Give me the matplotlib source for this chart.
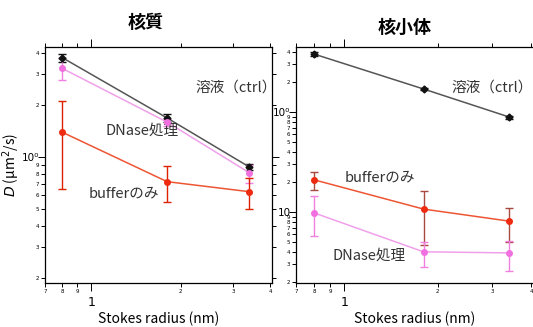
import matplotlib
matplotlib.use("Agg")
import matplotlib.pyplot as plt
from matplotlib.ticker import FixedLocator, FixedFormatter

plt.rcParams['font.family'] = ['Noto Sans CJK JP', 'DejaVu Sans']

# Stokes radius of probe molecules (nm)
radius = [0.8, 1.8, 3.4]

# 核質 (nucleoplasm): value, lower, upper  (µm²/s)
ctrl_np = [3.75, 1.68, 0.875]
ctrl_np_lo = [3.55, 1.60, 0.84]
ctrl_np_hi = [3.95, 1.76, 0.91]
dnase_np = [3.25, 1.59, 0.81]
dnase_np_lo = [2.79, 1.52, 0.71]
dnase_np_hi = [3.75, 1.66, 0.90]
buffer_np = [1.39, 0.72, 0.63]
buffer_np_lo = [0.65, 0.55, 0.50]
buffer_np_hi = [2.10, 0.89, 0.76]

# 核小体 (nucleolus)
ctrl_no = [3.8, 1.70, 0.89]
ctrl_no_lo = [3.65, 1.65, 0.86]
ctrl_no_hi = [3.95, 1.75, 0.92]
buffer_no = [0.21, 0.107, 0.081]
buffer_no_lo = [0.166, 0.047, 0.050]
buffer_no_hi = [0.25, 0.163, 0.11]
dnase_no = [0.098, 0.040, 0.039]
dnase_no_lo = [0.057, 0.028, 0.026]
dnase_no_hi = [0.145, 0.050, 0.051]

x_minor = [0.7, 0.8, 0.9, 2, 3, 4]
x_minor_labels = ['7', '8', '9', '2', '3', '4']

BLACK = '#111111'
PINK = '#f080e0'
RED = '#ee2a10'

W, H = 533, 327
fig = plt.figure(figsize=(W / 100, H / 100), dpi=100)


def px_axes(x0, x1, y0, y1):
    return fig.add_axes([x0 / W, 1 - y1 / H, (x1 - x0) / W, (y1 - y0) / H])


def series(ax, val, lo, hi, line, mark, ebar, m='o', ms=4):
    err = [[v - l for v, l in zip(val, lo)], [h - v for v, h in zip(val, hi)]]
    ax.errorbar(radius, val, yerr=err, fmt='none', ecolor=ebar, elinewidth=1,
                capsize=3, capthick=1, zorder=2)
    ax.plot(radius, val, color=line, lw=1.1, zorder=3)
    ax.plot(radius, val, ls='none', marker=m, ms=ms, color=mark, zorder=4)


def style(ax, ylim, ymaj, ymaj_labels, ymin, ymin_labels, right):
    ax.set_xscale('log')
    ax.set_yscale('log')
    ax.set_xlim(0.7, 4.05)
    ax.set_ylim(*ylim)
    ax.xaxis.set_major_locator(FixedLocator([1]))
    ax.xaxis.set_major_formatter(FixedFormatter(['1']))
    ax.xaxis.set_minor_locator(FixedLocator(x_minor))
    ax.xaxis.set_minor_formatter(FixedFormatter(x_minor_labels))
    ax.yaxis.set_major_locator(FixedLocator(ymaj))
    ax.yaxis.set_major_formatter(FixedFormatter(ymaj_labels))
    ax.yaxis.set_minor_locator(FixedLocator(ymin))
    ax.yaxis.set_minor_formatter(FixedFormatter(ymin_labels))
    ax.tick_params(axis='both', which='both', direction='out', width=0.7,
                   top=True, right=right, labelfontfamily='DejaVu Sans')
    ax.tick_params(axis='x', which='major', length=6, labelsize=9, pad=3)
    ax.tick_params(axis='x', which='minor', length=3, labelsize=4, pad=1)
    ax.tick_params(axis='y', which='major', length=5, labelsize=7.5, pad=-1)
    ax.tick_params(axis='y', which='minor', length=3, labelsize=4, pad=1)
    for s in ax.spines.values():
        s.set_linewidth(0.9)
    ax.spines['right'].set_visible(right)
    ax.set_xlabel('Stokes radius (nm)', fontsize=10, labelpad=2)


# left panel: nucleoplasm
ax1 = px_axes(45, 272, 47, 283)
series(ax1, ctrl_np, ctrl_np_lo, ctrl_np_hi, '#555555', BLACK, BLACK, 'D', 3.5)
series(ax1, dnase_np, dnase_np_lo, dnase_np_hi, '#f0a0ea', '#f070e0', PINK)
series(ax1, buffer_np, buffer_np_lo, buffer_np_hi, '#ee5533', RED, '#dd2200')
style(ax1, (0.187, 4.32), [1], ['10⁰'],
      [0.2, 0.3, 0.4, 0.5, 0.6, 0.7, 0.8, 0.9, 2, 3, 4],
      ['2', '3', '4', '5', '6', '7', '8', '9', '2', '3', '4'], True)
ax1.set_ylabel('$D$ (µm$^2$/s)', fontsize=10)
ax1.yaxis.set_label_coords(-0.1, 0.5)
ax1.text(0.664, 0.826, '溶液（ctrl）', transform=ax1.transAxes, fontsize=10.5,
         va='center', color='#333333')
ax1.text(0.265, 0.644, 'DNase処理', transform=ax1.transAxes, fontsize=10.5,
         va='center', color='#333333')
ax1.text(0.19, 0.381, 'bufferのみ', transform=ax1.transAxes, fontsize=10.5,
         va='center', color='#333333')

# right panel: nucleolus
ax2 = px_axes(296, 533, 47, 283)
series(ax2, ctrl_no, ctrl_no_lo, ctrl_no_hi, '#555555', BLACK, BLACK, 'D', 3.5)
series(ax2, buffer_no, buffer_no_lo, buffer_no_hi, '#ee5533', RED, '#a84a40')
series(ax2, dnase_no, dnase_no_lo, dnase_no_hi, '#f0a0ea', '#f070e0', PINK)
style(ax2, (0.0195, 4.47), [0.1, 1], ['10', '10⁰'],
      [0.02, 0.03, 0.04, 0.05, 0.06, 0.07, 0.08, 0.09,
       0.2, 0.3, 0.4, 0.5, 0.6, 0.7, 0.8, 0.9, 2, 3, 4],
      ['2', '3', '4', '5', '6', '7', '8', '9',
       '2', '3', '4', '5', '6', '7', '8', '9', '2', '3', '4'], False)
ax2.text(0.654, 0.826, '溶液（ctrl）', transform=ax2.transAxes, fontsize=10.5,
         va='center', color='#333333')
ax2.text(0.207, 0.449, 'bufferのみ', transform=ax2.transAxes, fontsize=10.5,
         va='center', color='#333333')
ax2.text(0.156, 0.114, 'DNase処理', transform=ax2.transAxes, fontsize=10.5,
         va='center', color='#333333')

fig.text(146 / W, 1 - 22 / H, '核質', fontsize=13, fontweight='bold',
         ha='center', va='center')
fig.text(405 / W, 1 - 27 / H, '核小体', fontsize=13, fontweight='bold',
         ha='center', va='center')

fig.savefig('out.png', dpi=100)
